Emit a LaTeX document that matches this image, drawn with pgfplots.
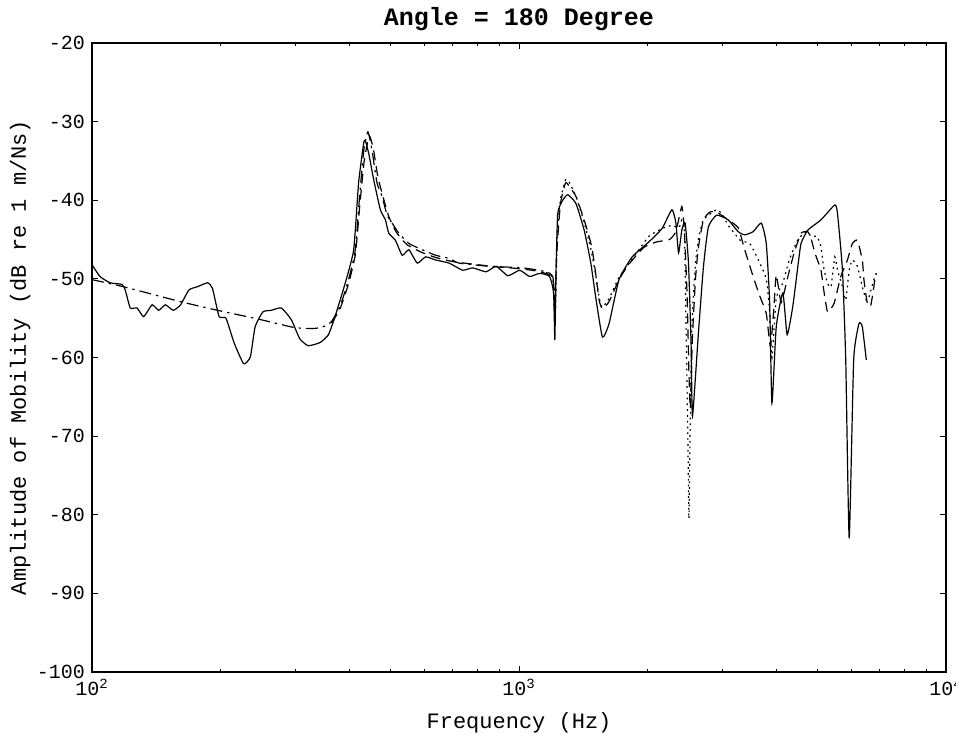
\documentclass[border=0pt]{standalone}
\usepackage{fontspec}
\setmainfont{Liberation Mono}
\usepackage{pgfplots}
\pgfplotsset{compat=1.18}
\begin{document}
\begin{tikzpicture}
\begin{axis}[
 scale only axis, width=427pt, height=314.5pt,
 xmode=log, xmin=100, xmax=10000, ymin=-100, ymax=-20,
 xtick={100,1000,10000},
 xticklabels={10\textsuperscript{2},10\textsuperscript{3},10\textsuperscript{4}},
 ytick={-100,-90,-80,-70,-60,-50,-40,-30,-20},
 yticklabels={-100,-90,-80,-70,-60,-50,-40,-30,-20},
 tick align=inside, major tick length=3pt, minor tick length=1.5pt,
 tick style={black, line width=0.5pt},
 axis line style={line width=0.7pt},
 ticklabel style={font=\fontsize{10}{12}\selectfont},
 title={\textbf{Angle = 180 Degree}},
 title style={font=\fontsize{12.5}{14}\selectfont, at={(axis description cs:0.5,1.008)}, anchor=base},
 xlabel={Frequency (Hz)},
 ylabel={Amplitude of Mobility (dB re 1 m/Ns)},
 label style={font=\fontsize{11}{13}\selectfont},
 xlabel style={at={(axis description cs:0.5,-0.081)}, anchor=center},
 ylabel style={at={(axis description cs:-0.084,0.5)}, anchor=center},
 every axis plot/.append style={black, line width=0.6pt, smooth, tension=0.3},
]
\coordinate (SW) at (rel axis cs:0,0);
\coordinate (NE) at (rel axis cs:1,1);
% solid
\addplot[solid] coordinates {
(100,-48.2)(104.4,-49.7)(110.3,-50.5)(117.5,-50.7)(119.6,-51.4)(122.9,-53.7)(127.5,-53.7)(132.1,-54.8)(138.3,-53.3)(143.3,-54.0)(148.6,-53.3)(155.0,-54.0)(161.2,-53.3)(168.7,-51.4)(176.6,-51.0)(186.4,-50.5)(191.5,-51.2)(198.5,-54.8)(205.9,-55.0)(215.4,-58.2)(226.6,-60.8)(234.9,-59.9)(241.0,-56.1)(251.3,-54.2)(262.9,-54.0)(277.6,-53.7)(293.0,-55.2)(306.5,-57.6)(320.8,-58.5)(342.0,-58.1)(357.9,-57.1)(370.8,-54.8)(391.5,-50.6)(410.0,-46.3)(421.0,-37.8)(432.6,-32.8)(436.4,-32.4)(444.5,-34.0)(456.8,-37.4)(473.4,-41.2)(486.5,-42.5)(495.5,-44.2)(513.6,-45.1)(532.6,-47.0)(552.4,-46.3)(577.8,-48.0)(604.4,-47.2)(638.2,-47.6)(686.4,-48.0)(737.9,-48.9)(779.1,-48.6)(837.3,-49.1)(884.1,-48.4)(942.0,-49.6)(1003.8,-48.9)(1059,-49.7)(1117,-49.3)(1179,-49.7)(1205,-51.8)(1213,-57.8)(1220,-50)(1232,-41.7)(1266,-40.0)(1300,-39.3)(1359,-40.4)(1421,-43.8)(1473,-48.0)(1512,-52.3)(1568,-57.4)(1625,-55.7)(1715,-50.1)(1841,-47.2)(2014,-45.3)(2162,-43.6)(2281,-41.2)(2330,-42.9)(2364,-46.7)(2406,-43.8)(2449,-42.9)(2494,-48.0)(2530,-58.6)(2548,-67.5)(2631,-56.9)(2703,-48.5)(2776,-43.4)(2903,-41.9)(3090,-42.5)(3260,-44.0)(3378,-44.4)(3534,-44.0)(3694,-42.9)(3794,-45.5)(3862,-52.7)(3912,-65.8)(4003,-56.1)(4149,-51.8)(4246,-57.1)(4377,-53.5)(4496,-48.5)(4576,-45.5)(4745,-43.8)(5094,-42.5)(5490,-40.6)(5570,-41.7)(5721,-48.9)(5823,-60.3)(5933,-83)(6078,-60.3)(6253,-55.7)(6368,-56.1)(6506,-60.3)
};
% dash-dot
\addplot[dash pattern=on 6pt off 2.5pt on 1.2pt off 2.5pt] coordinates {
(100,-50.1)(118.5,-51.0)(161.2,-52.9)(196.8,-54.0)(244.5,-55.1)(298.4,-56.2)(332.6,-56.3)(351.4,-56.0)(364.2,-55.4)(381.0,-53.5)(398.9,-50.1)(413.6,-46.3)(424,-39)(433.4,-33.5)(442.8,-31.3)(452.5,-33.6)(465.0,-37.8)(477.8,-39.5)(491,-41.9)(504.5,-42.9)(523.2,-44.2)(552.4,-45.5)(593.7,-46.3)(638.2,-47.0)(686.4,-47.4)(724.4,-48.0)(852.5,-48.4)(1021.6,-48.6)(1157,-49.1)(1200,-49.7)(1217,-53.5)
};
% dashed
\addplot[dash pattern=on 5pt off 3pt] coordinates {
(364,-55.6)(381,-53.8)(399,-50.6)(414,-46.8)(424,-40.5)(434,-35)(446,-31.8)(456,-33.5)(467,-37)(480,-39.5)(495,-42)(515,-44)(545,-45.6)(590,-46.6)(640,-47.3)(700,-47.8)(800,-48.2)(900,-48.5)(1000,-48.7)(1100,-49)(1180,-49.5)(1205,-50.5)(1214,-54.5)(1225,-47)(1250,-40.5)(1285,-37.8)(1310,-38.2)(1359,-39.5)(1421,-42.5)(1480,-45.9)(1512,-49.3)(1540,-52.7)(1568,-53.8)(1625,-52.9)(1715,-50.1)(1805,-48.2)(1960,-46)(2100,-45.3)(2250,-45)(2330,-44)(2406,-40.8)(2440,-44)(2475,-52)(2500,-62)(2520,-66.5)(2545,-58)(2590,-50)(2631,-46)(2703,-42.5)(2800,-41.5)(2903,-41.5)(3090,-42.5)(3260,-43.5)(3378,-46.3)(3534,-49.7)(3670,-52.3)(3794,-54.4)(3880,-58.6)(3950,-54)(4003,-49.5)(4111,-53)(4262,-49.7)(4408,-46.7)(4576,-44.2)(4745,-44.0)(4843,-45.1)(4930,-46.7)(5094,-48.9)(5184,-51.8)(5281,-54.2)(5470,-53.1)(5670,-49.7)(5876,-47.6)(6035,-45.5)(6200,-45.1)(6368,-47.6)(6423,-50.1)(6541,-53.1)(6658,-53.5)(6777,-51.0)(6839,-49.3)
};
% dotted
\addplot[dash pattern=on 0.9pt off 2pt] coordinates {
(1157,-49.2)(1200,-49.9)(1214,-56)(1228,-45)(1250,-40)(1285,-37.4)(1310,-37.7)(1359,-39.5)(1421,-42.8)(1473,-46.2)(1512,-49.5)(1545,-52.7)(1568,-53.6)(1625,-52.5)(1715,-49.8)(1841,-47.5)(2014,-44.6)(2162,-43.6)(2281,-43.2)(2370,-43.5)(2406,-42.5)(2440,-44)(2460,-55)(2485,-70)(2500,-80.5)(2515,-70)(2540,-56)(2590,-48)(2631,-45)(2703,-42.5)(2903,-41.2)(3000,-41.9)(3090,-43.2)(3300,-45.1)(3470,-45.5)(3620,-47.4)(3794,-50)(3862,-54)(3912,-60)(4003,-52.5)(4149,-50.5)(4300,-47.5)(4500,-45)(4700,-44)(4843,-44.6)(4990,-44.6)(5094,-45.9)(5140,-47.6)(5184,-48.9)(5281,-50.6)(5380,-51.0)(5490,-47.2)(5570,-48.9)(5721,-51.0)(5823,-52.7)(5933,-48.9)(6035,-47.6)(6200,-48.4)(6368,-51.0)(6506,-52.7)(6600,-52.3)(6777,-50.1)(6876,-49.3)
};
\end{axis}
\pgfresetboundingbox
\path[use as bounding box] ([xshift=-46pt,yshift=-37pt]SW) rectangle ([xshift=5pt,yshift=21.5pt]NE);
\end{tikzpicture}
\end{document}
